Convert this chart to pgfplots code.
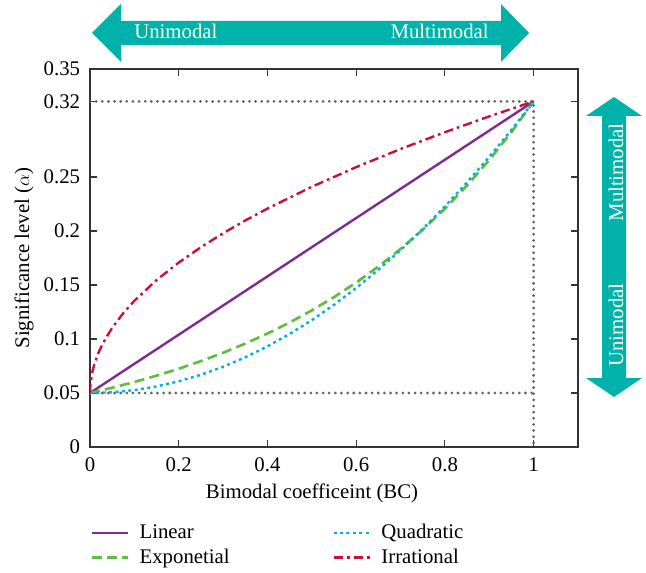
\documentclass[border=0pt]{standalone}
\usepackage{fontspec}
\setmainfont{Liberation Serif}
\usepackage{pgfplots}
\pgfplotsset{compat=1.18}
\definecolor{cteal}{RGB}{0,178,170}
\definecolor{cpurple}{RGB}{125,45,145}
\definecolor{cgreen}{RGB}{95,190,65}
\definecolor{ccyan}{RGB}{0,175,230}
\definecolor{cred}{RGB}{200,16,60}
\definecolor{cgrey}{RGB}{100,100,100}
\begin{document}
\fontsize{15.6}{18.5}\selectfont
\begin{tikzpicture}[font=\fontsize{15.6}{18.5}\selectfont]
\begin{scope}[x=0.75pt,y=-0.75pt,shift={(0pt,429pt)}]
\useasboundingbox (0,0) rectangle (646,572);
\fill[cteal] (92,33) -- (121,4) -- (121,21) -- (501,21) -- (501,4) -- (529,33) -- (501,62) -- (501,45) -- (121,45) -- (121,62) -- cycle;
\fill[cteal] (614,97) -- (642,116) -- (626,116) -- (626,378) -- (642,378) -- (614,397) -- (586,378) -- (602,378) -- (602,116) -- (586,116) -- cycle;
\node[white, anchor=base west, inner sep=0pt] at (134,39) {Unimodal};
\node[white, anchor=base east, inner sep=0pt] at (489,39) {Multimodal};
\node[white, anchor=base west, inner sep=0pt, rotate=90] at (623,367) {Unimodal};
\node[white, anchor=base east, inner sep=0pt, rotate=90] at (623,123) {Multimodal};
\end{scope}
\begin{axis}[at={(67.5pt,93.75pt)}, anchor=south west, width=366pt, height=283.5pt, scale only axis,
  xmin=0, xmax=1.1, ymin=0, ymax=0.35,
  xtick={0,0.2,0.4,0.6,0.8,1}, xticklabels={0,0.2,0.4,0.6,0.8,1},
  ytick={0,0.05,0.1,0.15,0.2,0.25,0.32,0.35}, yticklabels={0,0.05,0.1,0.15,0.2,0.25,0.32,0.35},
  tick align=inside, major tick length=5pt, tick style={black!80, line width=0.8pt},
  axis line style={black!80, line width=1pt},
  xticklabel style={yshift=-2.5pt},
  yticklabel style={xshift=-2pt},
  xlabel={Bimodal coefficeint (BC)}, ylabel={Significance level ($\alpha$)},
  xlabel style={at={(axis description cs:0.455,-0.122)}, anchor=center},
  ylabel style={at={(axis description cs:-0.135,0.5)}, anchor=center},
  legend columns=2, transpose legend, legend cell align=left,
  legend style={at={(axis description cs:0,-0.196)}, anchor=north west, draw=none, fill=none, inner sep=0pt, row sep=1.5pt, /tikz/every even column/.append style={column sep=75pt}},
  legend image code/.code={\draw[#1] (0pt,0pt) -- (27pt,0pt); \path (33pt,0pt);},
]
\addplot[forget plot, cgrey, line width=2.3pt, line cap=round, dash pattern=on 0pt off 4.6pt] coordinates {(0,0.32) (1,0.32) (1,0)};
\addplot[forget plot, cgrey, line width=2.3pt, line cap=round, dash pattern=on 0pt off 4.6pt] coordinates {(0,0.05) (1,0.05)};
\addplot[cpurple, line width=1.8pt] coordinates {(0,0.05) (1,0.32)};
\addlegendentry{Linear}
\addplot[cgreen, line width=2pt, dash pattern=on 7.5pt off 4pt] coordinates {
(0,0.05) (0.05,0.054863) (0.1,0.060199) (0.15,0.066053) (0.2,0.072478) (0.25,0.079527)
(0.3,0.087262) (0.35,0.095748) (0.4,0.105061) (0.45,0.11528) (0.5,0.126491) (0.55,0.138794)
(0.6,0.152292) (0.65,0.167103) (0.7,0.183356) (0.75,0.201189) (0.8,0.220759) (0.85,0.242228)
(0.9,0.265787) (0.95,0.291638) (1,0.32)};
\addlegendentry{Exponetial}
\addplot[ccyan, line width=1.8pt, dash pattern=on 2.2pt off 2.6pt] coordinates {
(0,0.05) (0.05,0.050675) (0.1,0.0527) (0.15,0.056075) (0.2,0.0608) (0.25,0.066875)
(0.3,0.0743) (0.35,0.083075) (0.4,0.0932) (0.45,0.104675) (0.5,0.1175) (0.55,0.131675)
(0.6,0.1472) (0.65,0.164075) (0.7,0.1823) (0.75,0.201875) (0.8,0.2228) (0.85,0.245075)
(0.9,0.2687) (0.95,0.293675) (1,0.32)};
\addlegendentry{Quadratic}
\addplot[cred, line width=1.8pt, dash pattern=on 7pt off 3pt on 2pt off 3pt] coordinates {
(0,0.05) (0.001,0.058538) (0.005,0.069092) (0.01,0.077) (0.02,0.088184) (0.03,0.096765)
(0.05,0.110374) (0.075,0.123942) (0.1,0.135382) (0.15,0.15457) (0.2,0.170748) (0.25,0.185)
(0.3,0.197885) (0.35,0.209734) (0.4,0.220763) (0.5,0.240919) (0.6,0.259141) (0.7,0.2759)
(0.8,0.291495) (0.9,0.306144) (1,0.32)};
\addlegendentry{Irrational}
\end{axis}
\end{tikzpicture}
\end{document}
